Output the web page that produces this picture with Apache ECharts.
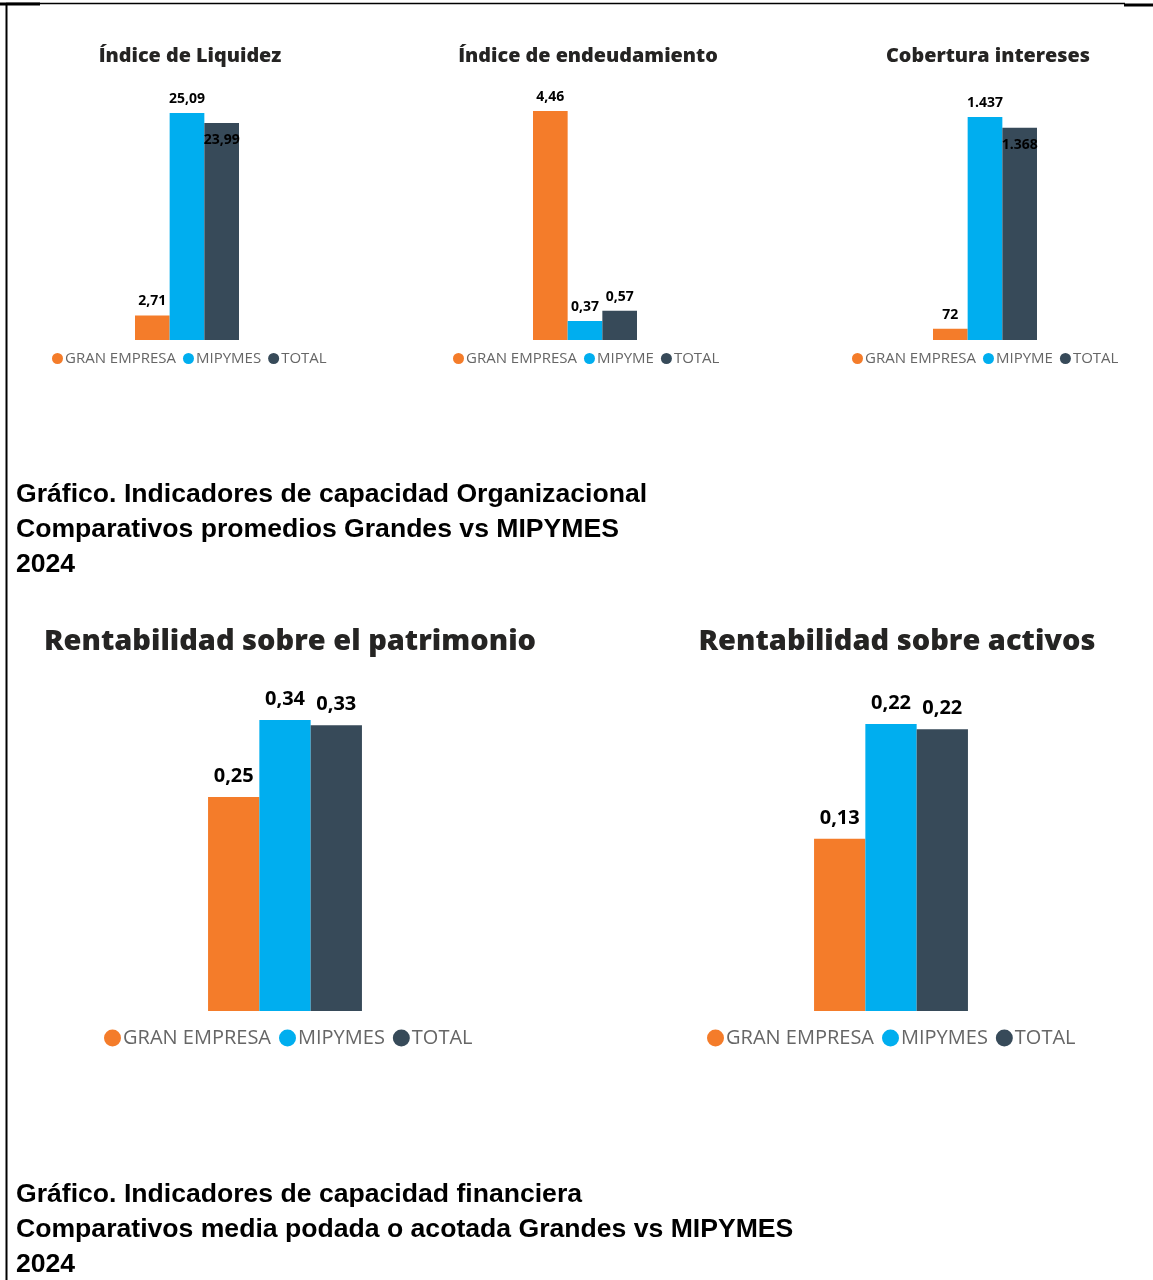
<!DOCTYPE html>
<html><head><meta charset="utf-8">
<script src="https://cdn.jsdelivr.net/npm/echarts@6/dist/echarts.min.js"></script>
<style>html,body{margin:0;padding:0;background:#fff;}#c{width:1153px;height:1280px;}</style>
</head><body><div id="c"></div>
<script>
// Data
const categoriesTop = ['GRAN EMPRESA', 'MIPYMES', 'TOTAL'];
const categoriesMid = ['GRAN EMPRESA', 'MIPYME', 'TOTAL'];
const liquidez = [2.71, 25.09, 23.99];
const endeudamiento = [4.46, 0.37, 0.57];
const cobertura = [72, 1437, 1368];
const roe = [0.25, 0.34, 0.334];
const roa = [0.132, 0.22, 0.216];
const chartTitles = ['Índice de Liquidez', 'Índice de endeudamiento', 'Cobertura intereses', 'Rentabilidad sobre el patrimonio', 'Rentabilidad sobre activos'];
const captions1 = ['Gráfico. Indicadores de capacidad Organizacional', 'Comparativos promedios Grandes vs MIPYMES', '2024'];
const captions2 = ['Gráfico. Indicadores de capacidad financiera', 'Comparativos media podada o acotada Grandes vs MIPYMES', '2024'];

const colors = ['#F47C2A', '#00AEEF', '#374A59'];
const PBI = '"Open Sans", "Noto Sans", sans-serif';
const dec2 = v => v.toFixed(2).replace('.', ',');
const thou = v => Math.round(v).toString().replace(/\B(?=(\d{3})+(?!\d))/g, '.');

const panels = [
  {vals: liquidez, names: categoriesTop, grid: {left: 135, top: 113, width: 104, height: 227}, bw: 34.7, fmt: dec2, lfs: 14, dist: 7, pos: ['top','top','insideTop'],
   title: {x: 190, y: 56, fs: 19.8}, legend: {left: 52, top: 351, fs: 15, icon: 11, gap: 7}},
  {vals: endeudamiento, names: categoriesMid, grid: {left: 533, top: 111, width: 104, height: 229}, bw: 34.7, fmt: dec2, lfs: 14, dist: 7, pos: ['top','top','top'],
   title: {x: 588, y: 56, fs: 19.8}, legend: {left: 453, top: 351, fs: 15, icon: 11, gap: 7}},
  {vals: cobertura, names: categoriesMid, grid: {left: 933, top: 117, width: 104, height: 223}, bw: 34.7, fmt: thou, lfs: 14, dist: 7, pos: ['top','top','insideTop'],
   title: {x: 988, y: 56, fs: 19.8}, legend: {left: 852, top: 351, fs: 15, icon: 11, gap: 7}},
  {vals: roe, names: categoriesTop, grid: {left: 208, top: 720, width: 154, height: 291}, bw: 51.3, fmt: dec2, lfs: 20, dist: 11, pos: ['top','top','top'],
   title: {x: 290, y: 642, fs: 29}, legend: {left: 104, top: 1028, fs: 20, icon: 17, gap: 8}},
  {vals: roa, names: categoriesTop, grid: {left: 814, top: 724, width: 154, height: 287}, bw: 51.3, fmt: dec2, lfs: 20, dist: 11, pos: ['top','top','top'],
   title: {x: 897, y: 642, fs: 29}, legend: {left: 707, top: 1028, fs: 20, icon: 17, gap: 8}}
];

const option = {
  animation: false,
  grid: [], xAxis: [], yAxis: [], series: [], legend: [], graphic: []
};

panels.forEach((p, i) => {
  option.grid.push(Object.assign({containLabel: false}, p.grid));
  option.xAxis.push({type: 'category', gridIndex: i, data: [''], show: false});
  option.yAxis.push({type: 'value', gridIndex: i, min: 0, max: 'dataMax', show: false, splitLine: {show: false}});
  p.vals.forEach((v, k) => {
    option.series.push({
      type: 'bar', name: p.names[k], xAxisIndex: i, yAxisIndex: i,
      data: [v], barWidth: p.bw, barGap: '0%',
      itemStyle: {color: colors[k]},
      label: {show: true, position: p.pos[k], distance: p.pos[k] === 'insideTop' ? 10 : p.dist,
        formatter: o => p.fmt(o.value), fontFamily: PBI, fontWeight: 'bold', fontSize: p.lfs, color: '#000'}
    });
  });
  option.legend.push({
    data: p.names.map((n, k) => ({name: n, itemStyle: {color: colors[k]}})),
    left: p.legend.left, top: p.legend.top, orient: 'horizontal', icon: 'circle',
    itemWidth: p.legend.icon, itemHeight: p.legend.icon, itemGap: p.legend.gap, padding: 0,
    selectedMode: false,
    textStyle: {fontFamily: PBI, fontSize: p.legend.fs, color: '#666666', padding: [0, 0, 0, -3]}
  });
  option.graphic.push({type: 'text', x: p.title.x, y: p.title.y,
    style: {text: chartTitles[i], fontFamily: PBI, fontWeight: 800, fontSize: p.title.fs, fill: '#252423', textAlign: 'center', textVerticalAlign: 'middle'}});
});

const capFont = '"Liberation Sans", Arial, sans-serif';
captions1.forEach((t, j) => option.graphic.push({type: 'text', x: 16, y: 495 + 35 * j,
  style: {text: t, fontFamily: capFont, fontWeight: 'bold', fontSize: 26.6, fill: '#000', textAlign: 'left', textVerticalAlign: 'middle'}}));
captions2.forEach((t, j) => option.graphic.push({type: 'text', x: 16, y: 1195 + 35 * j,
  style: {text: t, fontFamily: capFont, fontWeight: 'bold', fontSize: 26.6, fill: '#000', textAlign: 'left', textVerticalAlign: 'middle'}}));

// page border lines
option.graphic.push({type: 'line', shape: {x1: 6, y1: 3.5, x2: 1125, y2: 3.5}, style: {stroke: '#000', lineWidth: 1.5}});
option.graphic.push({type: 'line', shape: {x1: 0, y1: 4, x2: 40, y2: 4}, style: {stroke: '#000', lineWidth: 3}});
option.graphic.push({type: 'line', shape: {x1: 1124, y1: 5, x2: 1153, y2: 5}, style: {stroke: '#000', lineWidth: 3}});
option.graphic.push({type: 'line', shape: {x1: 6.5, y1: 3, x2: 6.5, y2: 1280}, style: {stroke: '#000', lineWidth: 2}});

echarts.init(document.getElementById('c'), null, {renderer: 'canvas'}).setOption(option);
</script></body></html>
